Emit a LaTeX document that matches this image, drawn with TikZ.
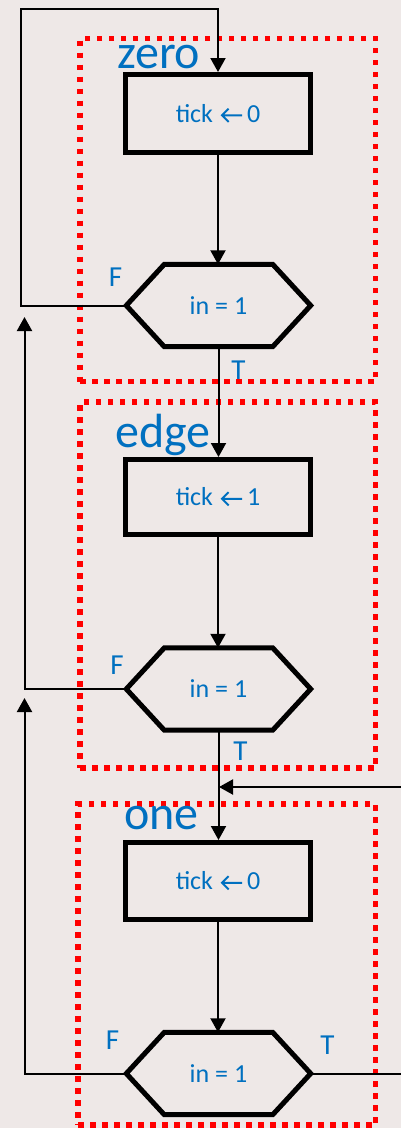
\documentclass[tikz,border=0pt]{standalone}
\usepackage{fontspec}
\setmainfont{Carlito}
\usetikzlibrary{arrows.meta,calc}
\definecolor{txtblue}{HTML}{0070C0}
\definecolor{bgcol}{HTML}{EEE8E7}
\newsavebox\arrbox
\begin{document}
\sbox\arrbox{\begin{pgfpicture}\pgfsetbaseline{0pt}%
  \pgfsetlinewidth{1.9pt}\pgfsetmiterjoin\pgfsetstrokecolor{txtblue}%
  \pgfpathmoveto{\pgfpoint{7.5pt}{13.5pt}}\pgfpathlineto{\pgfpoint{0.9pt}{6.9pt}}%
  \pgfpathlineto{\pgfpoint{7.5pt}{0.3pt}}%
  \pgfpathmoveto{\pgfpoint{1.2pt}{6.9pt}}\pgfpathlineto{\pgfpoint{21pt}{6.9pt}}%
  \pgfusepath{stroke}\end{pgfpicture}}%
\begin{tikzpicture}[x=1pt,y=-1pt,
  statebox/.style={draw=red, line width=5.5pt, dash pattern=on 5.5pt off 6.5pt, inner sep=0pt},
  actbox/.style={draw=black, line width=5pt, minimum width=185pt, inner sep=0pt,
    font=\fontsize{26}{30}\selectfont, text=txtblue},
  hexlab/.style={minimum width=184pt, minimum height=82pt, inner sep=0pt,
    font=\fontsize{26}{30}\selectfont, text=txtblue},
  hexline/.style={draw=black, line width=5pt, line join=miter},
  flow/.style={draw=black, line width=2pt, -{Triangle[length=14pt,width=15pt]}},
  wire/.style={draw=black, line width=2pt},
  statename/.style={text=txtblue, font=\fontsize{48}{52}\selectfont, anchor=base west, inner sep=0pt},
  tflab/.style={text=txtblue, font=\fontsize{29}{32}\selectfont, inner sep=0pt},
]
\useasboundingbox (0,0) rectangle (401,1128);
\fill[bgcol] (0,0) rectangle (401,1128);

% state frames
\node[statebox, minimum width=295.5pt, minimum height=343pt] (zerobox) at (227.75,210) {};
\node[statebox, minimum width=295.5pt, minimum height=366pt] (edgebox) at (227.75,585) {};
\node[statebox, minimum width=297.5pt, minimum height=321pt] (onebox) at (226.75,964.5) {};

% state names
\node[statename] (nzero) at (117,68) {zero};
\node[statename] (nedge) at (115,447) {edge};
\node[statename] (none) at (124,829) {one};

% action boxes
\node[actbox, minimum height=78pt] (b1) at (218,113.5) {tick\hspace{8pt}\usebox\arrbox\hspace{4pt}0};
\node[actbox, minimum height=75pt] (b2) at (218,497) {tick\hspace{8pt}\usebox\arrbox\hspace{4pt}1};
\node[actbox, minimum height=77pt] (b3) at (218,881) {tick\hspace{8pt}\usebox\arrbox\hspace{4pt}0};

% decisions
\node[hexlab] (h1) at (218.5,305.5) {in = 1};
\node[hexlab] (h2) at (218.5,689) {in = 1};
\node[hexlab] (h3) at (218.5,1073.5) {in = 1};
\foreach \n in {h1,h2,h3} {
  \draw[hexline] (\n.west) -- ($(\n.north west)+(38,0)$) -- ($(\n.north east)+(-38,0)$)
    -- (\n.east) -- ($(\n.south east)+(-38,0)$) -- ($(\n.south west)+(38,0)$) -- cycle;
}

% F / T labels
\node[tflab] (f1) at (115.5,277.5) {F};
\node[tflab] (t1) at (238.5,370) {T};
\node[tflab] (f2) at (117,665.5) {F};
\node[tflab] (t2) at (240.5,751) {T};
\node[tflab] (f3) at (112.5,1040) {F};
\node[tflab] (t3) at (327.5,1045.5) {T};

% free ends
\coordinate (c1) at (21,9);
\coordinate (a1) at (24.5,317);
\coordinate (a2) at (24.5,698);
\coordinate (rin) at (402,787);
\coordinate (mt) at (219,787);
\coordinate (rout) at (402,1073.5);

% connectors
\draw[flow] (b1.south) -- (b1.south |- h1.north);
\draw[flow] (h1.south) -- (h1.south |- b2.north);
\draw[flow] (b2.south) -- (b2.south |- h2.north);
\draw[flow] (h2.south) -- (h2.south |- b3.north);
\draw[flow] (b3.south) -- (b3.south |- h3.north);
\draw[flow] (h1.west) -| (c1) -| (b1.north);
\draw[flow] (h2.west) -| (a1);
\draw[flow] (h3.west) -| (a2);
\draw[flow] (rin) -- (mt);
\draw[wire] (h3.east) -- (rout);
\end{tikzpicture}
\end{document}
